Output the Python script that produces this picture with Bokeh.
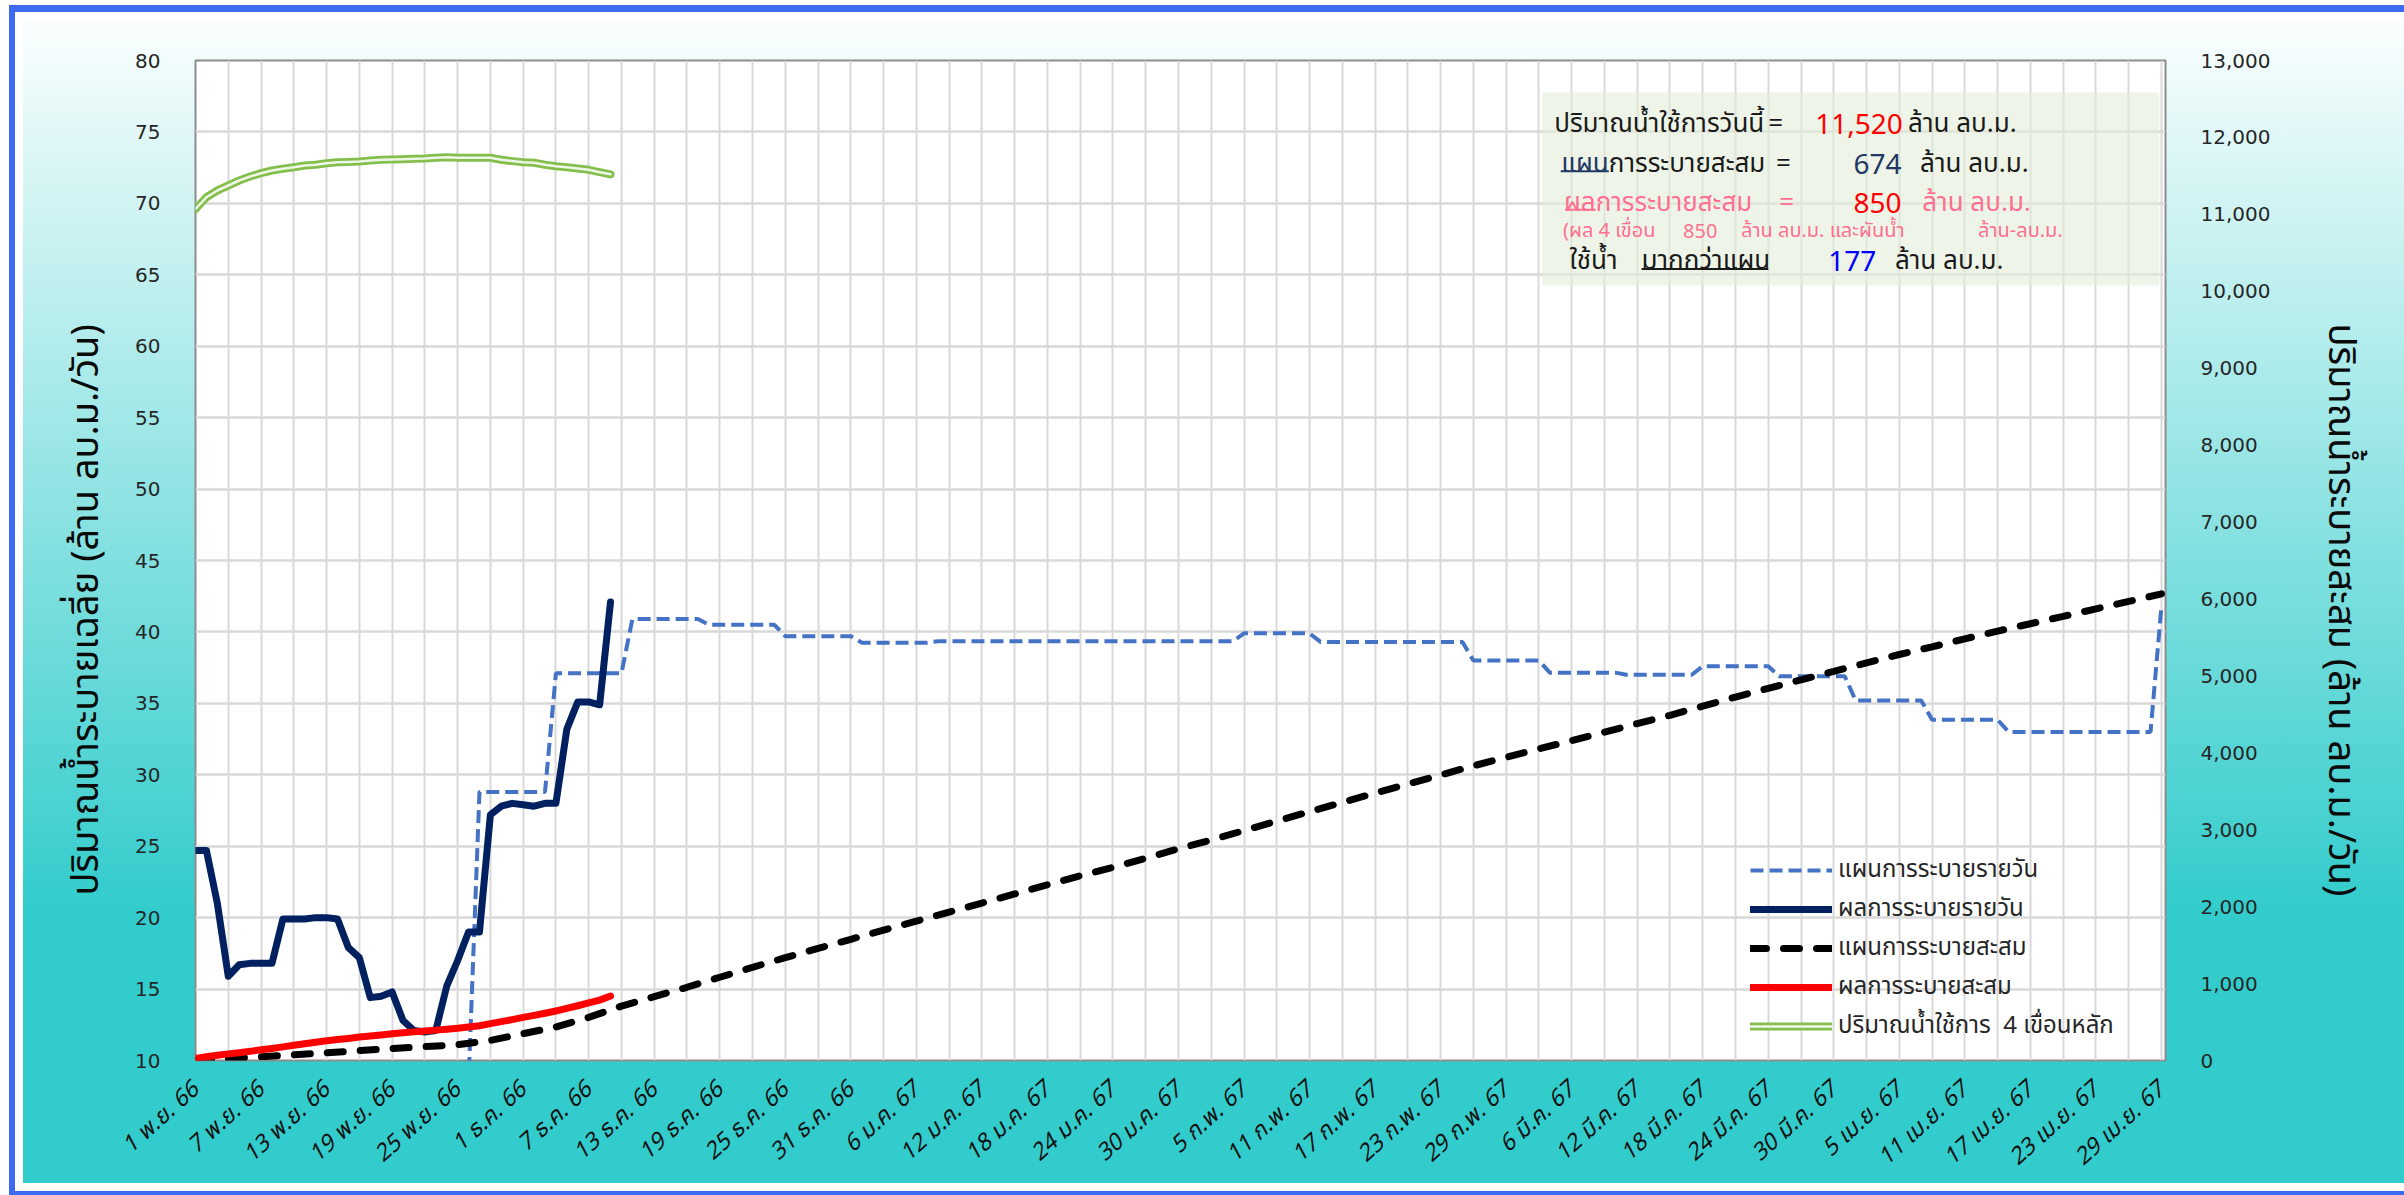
from math import radians
from bokeh.plotting import figure
from bokeh.models import (Range1d, LinearAxis, FixedTicker, NumeralTickFormatter,
                          Legend, LegendItem, BoxAnnotation, Label)
from bokeh.embed import file_html
from bokeh.resources import INLINE

THAI = "'Noto Sans Thai', 'Noto Sans', sans-serif"
NB = "\u00a0"

# ---------------- data ----------------
tick_days = list(range(0, 181, 6))
tick_labels = ["1 พ.ย. 66", "7 พ.ย. 66", "13 พ.ย. 66", "19 พ.ย. 66", "25 พ.ย. 66",
               "1 ธ.ค. 66", "7 ธ.ค. 66", "13 ธ.ค. 66", "19 ธ.ค. 66", "25 ธ.ค. 66", "31 ธ.ค. 66",
               "6 ม.ค. 67", "12 ม.ค. 67", "18 ม.ค. 67", "24 ม.ค. 67", "30 ม.ค. 67",
               "5 ก.พ. 67", "11 ก.พ. 67", "17 ก.พ. 67", "23 ก.พ. 67", "29 ก.พ. 67",
               "6 มี.ค. 67", "12 มี.ค. 67", "18 มี.ค. 67", "24 มี.ค. 67", "30 มี.ค. 67",
               "5 เม.ย. 67", "11 เม.ย. 67", "17 เม.ย. 67", "23 เม.ย. 67", "29 เม.ย. 67"]
left_ticks = list(range(10, 81, 5))
right_ticks = list(range(0, 13001, 1000))
left_title = "ปริมาณน้ำระบายเฉลี่ย (ล้าน ลบ.ม./วัน)"
right_title = "ปริมาณน้ำระบายสะสม (ล้าน ลบ.ม./วัน)"

# plan daily release (left axis), day index from 1 Nov 66, weekly steps
plan_daily_days = [0, 25, 26, 32, 33, 39, 40, 46, 47, 53, 54, 60, 61, 67, 68, 95, 96, 102,
                   103, 116, 117, 123, 124, 130, 131, 137, 138, 144, 145, 151, 152, 158,
                   159, 165, 166, 179, 180]
plan_daily = [8.5, 8.5, 28.8, 28.8, 37.1, 37.1, 40.9, 40.9, 40.5, 40.5, 39.7, 39.7,
              39.25, 39.25, 39.35, 39.35, 39.9, 39.9, 39.3, 39.3, 38.0, 38.0, 37.15, 37.15,
              37.0, 37.0, 37.6, 37.6, 36.9, 36.9, 35.2, 35.2, 33.85, 33.85, 33.0, 33.0, 41.8]

# actual daily release (left axis)
actual_days = list(range(0, 39))
actual_daily = [24.7, 24.7, 21.0, 15.9, 16.7, 16.8, 16.8, 16.8, 19.9, 19.9, 19.9, 20.0,
                20.0, 19.9, 17.9, 17.2, 14.4, 14.5, 14.8, 12.8, 12.1, 12.0, 12.1, 15.2,
                17.0, 19.0, 19.0, 27.2, 27.8, 28.0, 27.9, 27.8, 28.0, 28.0, 33.2, 35.1,
                35.1, 34.9, 42.1]

# plan cumulative (right axis)
plan_cum_days = list(range(0, 181, 3))
plan_cum = [0, 24, 48, 74, 100, 128, 155, 180, 205, 262, 349, 436, 560, 707, 830, 952,
            1082, 1212, 1336, 1458, 1576, 1694, 1811, 1929, 2047, 2165, 2283, 2401, 2510,
            2630, 2752, 2866, 2990, 3112, 3235, 3355, 3476, 3595, 3712, 3830, 3942, 4052,
            4158, 4268, 4380, 4487, 4607, 4725, 4838, 4948, 5058, 5170, 5278, 5378, 5482,
            5582, 5678, 5774, 5871, 5968, 6066]

# actual cumulative (right axis)
actual_cum = [25, 48, 68, 86, 102, 119, 140, 157, 177, 198, 218, 237, 256, 272, 287, 305,
              318, 332, 348, 360, 372, 384, 395, 406, 420, 436, 452, 480, 506, 532, 560,
              587, 614, 644, 677, 712, 750, 785, 838]

# usable water in 4 main dams (right axis)
usable_water = [11070, 11222, 11310, 11375, 11440, 11492, 11535, 11570, 11592, 11613,
                11635, 11644, 11665, 11678, 11682, 11687, 11700, 11709, 11713, 11717,
                11722, 11726, 11735, 11743, 11735, 11735, 11735, 11735, 11709, 11692,
                11678, 11670, 11644, 11626, 11613, 11596, 11579, 11548, 11520]

legend_labels = ["แผนการระบายรายวัน", "ผลการระบายรายวัน", "แผนการระบายสะสม",
                 "ผลการระบายสะสม", "ปริมาณน้ำใช้การ" + NB + NB + "4 เขื่อนหลัก"]

# ---------------- figure ----------------
p = figure(width=2404, height=1195, x_range=Range1d(0, 180.37), y_range=Range1d(10, 80),
           output_backend="svg", toolbar_location=None,
           min_border_left=195, min_border_right=239, min_border_top=60,
           min_border_bottom=135)
p.extra_y_ranges = {"cum": Range1d(0, 13000)}

p.background_fill_color = "white"
p.border_fill_color = None
p.outline_line_color = "#8C8C8C"
p.outline_line_width = 2
BLUE = "#3C6AF0"
p.styles = {
    "background": "linear-gradient(to bottom, #FFFFFF 0%, #33CCCC 76%, #33CCCC 100%)",
    "box-shadow": ", ".join([
        "inset 0 5px 0 0 #FFFFFF", "inset 9px 0 0 0 #FFFFFF",
        f"inset 0 12px 0 0 {BLUE}", f"inset 15px 0 0 0 {BLUE}", f"inset 0 -4px 0 0 {BLUE}",
        "inset 0 20px 0 0 #FFFFFF", "inset 23px 0 0 0 #FFFFFF", "inset 0 -12px 0 0 #FFFFFF",
    ]),
}

# grid
p.xgrid.ticker = FixedTicker(ticks=list(range(0, 181, 3)))
p.xgrid.grid_line_color = "#D9D9D9"
p.xgrid.grid_line_width = 2
p.ygrid.ticker = FixedTicker(ticks=left_ticks)
p.ygrid.grid_line_color = "#D9D9D9"
p.ygrid.grid_line_width = 2.5

# axes
p.xaxis.ticker = FixedTicker(ticks=tick_days)
p.xaxis.major_label_overrides = {d: lab for d, lab in zip(tick_days, tick_labels)}
p.xaxis.major_label_orientation = radians(42)
p.xaxis.major_label_text_font = THAI
p.xaxis.major_label_text_font_size = "23px"
p.xaxis.major_label_text_font_style = "italic"
p.xaxis.major_label_text_color = "#111111"
p.xaxis.major_label_standoff = 26

right_axis = LinearAxis(y_range_name="cum", ticker=FixedTicker(ticks=right_ticks),
                        formatter=NumeralTickFormatter(format="0,0"))
p.add_layout(right_axis, "right")
p.yaxis[0].ticker = FixedTicker(ticks=left_ticks)

# titles sit a little below the frame centre in the original: pad with no-break spaces
p.yaxis[0].axis_label = left_title + NB * 10
right_axis.axis_label = NB * 10 + right_title

for ax in [p.xaxis[0], p.yaxis[0], right_axis]:
    ax.axis_line_color = None
    ax.major_tick_line_color = None
    ax.minor_tick_line_color = None
    ax.major_tick_out = 0
    ax.major_tick_in = 0
for ax in [p.yaxis[0], right_axis]:
    ax.major_label_text_font = "DejaVu Sans"
    ax.major_label_text_font_size = "20px"
    ax.major_label_text_color = "#262626"
    ax.major_label_standoff = 35
    ax.axis_label_text_font = THAI
    ax.axis_label_text_font_size = "38px"
    ax.axis_label_text_font_style = "normal"
    ax.axis_label_text_color = "#0A0A0A"
p.yaxis[0].axis_label_standoff = 17
right_axis.axis_label_standoff = 39

# ---------------- lines ----------------
r1 = p.line(plan_daily_days, plan_daily, line_color="#4472C4", line_width=4,
            line_dash="13 6")
r2 = p.line(actual_days, actual_daily, line_color="#002060", line_width=7,
            line_join="round", line_cap="round")
r3 = p.line(plan_cum_days, plan_cum, y_range_name="cum", line_color="black",
            line_width=7, line_dash="16 17", line_cap="round")
r4 = p.line(actual_days, actual_cum, y_range_name="cum", line_color="#FF0000",
            line_width=7, line_cap="round", line_join="round")
r5a = p.line(actual_days, usable_water, y_range_name="cum", line_color="#84BF4E",
             line_width=8, line_cap="round", line_join="round")
r5b = p.line(actual_days, usable_water, y_range_name="cum", line_color="#EEF7E6",
             line_width=2.5, line_cap="round", line_join="round")

legend = Legend(items=[LegendItem(label=legend_labels[0], renderers=[r1]),
                       LegendItem(label=legend_labels[1], renderers=[r2]),
                       LegendItem(label=legend_labels[2], renderers=[r3]),
                       LegendItem(label=legend_labels[3], renderers=[r4]),
                       LegendItem(label=legend_labels[4], renderers=[r5a, r5b])],
                location=(1555, 16), background_fill_alpha=0, border_line_color=None,
                glyph_width=82, glyph_height=24, label_height=24, spacing=3,
                padding=0, margin=0, label_standoff=6, label_text_font=THAI,
                label_text_font_size="24px", label_text_color="#262626")
p.add_layout(legend)

# ---------------- info panel ----------------
p.add_layout(BoxAnnotation(left=123.3, right=179.8, bottom=64.25, top=77.76,
                           fill_color="#E2EFD9", fill_alpha=0.6, line_color=None))


def txt(x, y, s, color="#1A1A1A", size="26px", align="left"):
    p.add_layout(Label(x=x, y=y, text=s, text_font=THAI, text_font_size=size,
                       text_color=color, text_baseline="middle", text_align=align))


def underline(x0, x1, y, color):
    p.add_layout(BoxAnnotation(left=x0, right=x1, bottom=y - 0.07, top=y + 0.07,
                               fill_color=color, fill_alpha=1, line_color=None))


PINK = "#FF6F91"
NUM = "28px"
txt(124.4, 75.59, "ปริมาณน้ำใช้การวันนี้")
txt(144.0, 75.59, "=")
txt(148.3, 75.59, "11,520", color="#FF0000", size=NUM)
txt(156.8, 75.59, "ล้าน ลบ.ม.")

txt(129.4, 72.79, "แผน", color="#1F3864", align="right")
txt(129.4, 72.79, "การระบายสะสม")
txt(144.7, 72.79, "=")
txt(151.8, 72.79, "674", color="#1F3864", size=NUM)
txt(157.9, 72.79, "ล้าน ลบ.ม.")
underline(125.0, 129.4, 72.25, "#1F3864")

txt(128.2, 70.06, "ผล", color=PINK, align="right")
txt(128.2, 70.06, "การระบายสะสม", color=PINK)
txt(145.0, 70.06, "=", color=PINK)
txt(151.8, 70.06, "850", color="#FF0000", size=NUM)
txt(158.1, 70.06, "ล้าน ลบ.ม.", color=PINK)
underline(125.4, 128.2, 69.55, PINK)

txt(125.2, 68.1, "(ผล 4 เขื่อน", color=PINK, size="20px")
txt(136.2, 68.1, "850", color=PINK, size="20px")
txt(141.5, 68.1, "ล้าน ลบ.ม. และผันน้ำ", color=PINK, size="20px")
txt(163.2, 68.1, "ล้าน-ลบ.ม.", color=PINK, size="20px")

txt(125.8, 66.0, "ใช้น้ำ")
txt(132.4, 66.0, "มากกว่าแผน")
txt(149.5, 66.0, "177", color="#0000FF", size=NUM)
txt(155.6, 66.0, "ล้าน ลบ.ม.")
underline(132.4, 144.0, 65.4, "#1A1A1A")

open("out.html", "w").write(file_html(p, INLINE))
